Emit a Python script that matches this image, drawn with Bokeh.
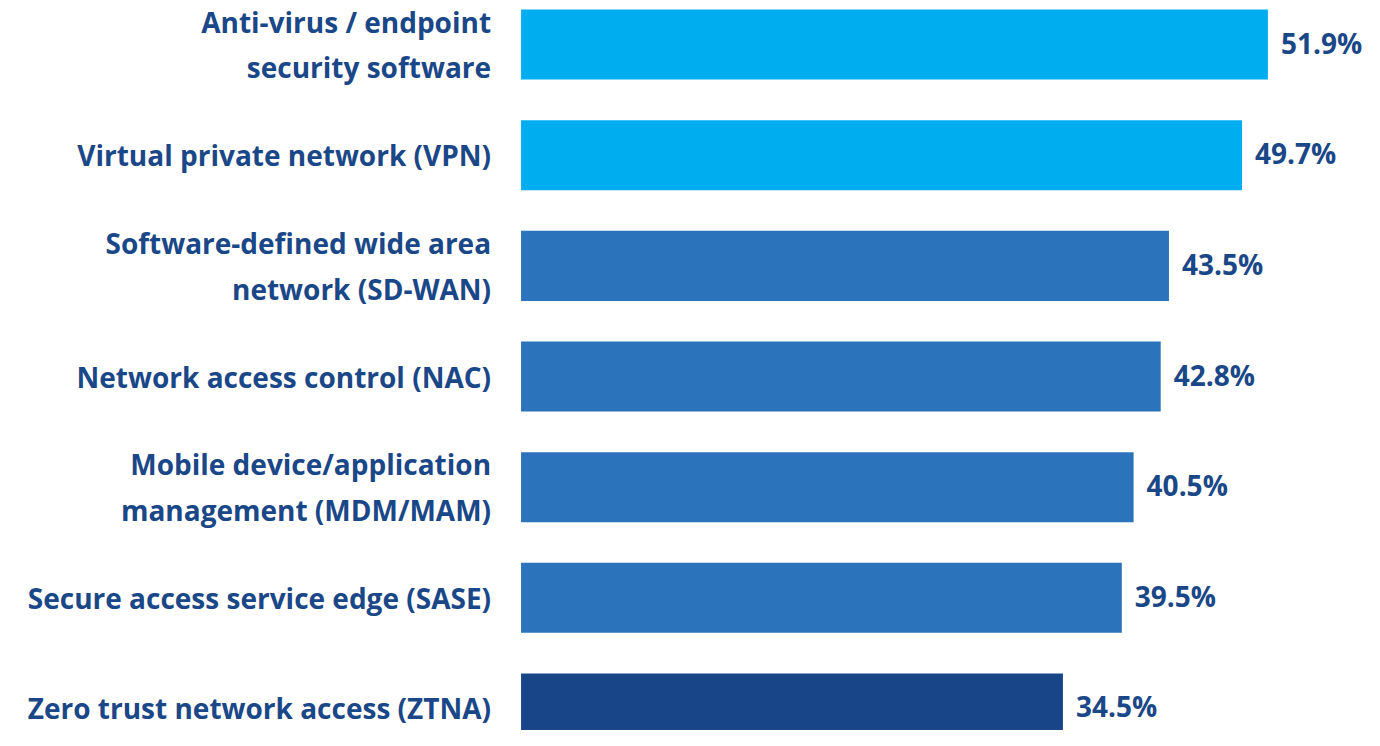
from bokeh.plotting import figure
from bokeh.models import Range1d, ColumnDataSource
from bokeh.core.properties import value
from bokeh.embed import file_html
from bokeh.resources import INLINE

categories = [
    "Anti-virus / endpoint\nsecurity software",
    "Virtual private network (VPN)",
    "Software-defined wide area\nnetwork (SD-WAN)",
    "Network access control (NAC)",
    "Mobile device/application\nmanagement (MDM/MAM)",
    "Secure access service edge (SASE)",
    "Zero trust network access (ZTNA)",
]
values = [51.9, 49.7, 43.5, 42.8, 40.5, 39.5, 34.5]
value_labels = ["51.9%", "49.7%", "43.5%", "42.8%", "40.5%", "39.5%", "34.5%"]
colors = ["#00AEEF", "#00AEEF", "#2B73BA", "#2B73BA", "#2B73BA", "#2B73BA", "#174587"]

BAR_BASE = -11.5
TEXT_COLOR = "#1A4787"
FONT = value("Open Sans")

n = len(categories)
ypos = list(range(n))
src = ColumnDataSource(dict(
    y=ypos, right=values, left=[BAR_BASE] * n, color=colors,
    cat=categories, lab=value_labels,
))

p = figure(width=1364, height=730, output_backend="svg", toolbar_location=None,
           x_range=Range1d(-55.69, 60.10), y_range=Range1d(6.199, -0.398),
           min_border=0, outline_line_color=None)
p.xaxis.visible = False
p.yaxis.visible = False
p.grid.visible = False
p.background_fill_color = "white"

p.hbar(y="y", left="left", right="right", height=0.633, color="color",
       line_color=None, source=src)

p.text(x=BAR_BASE, y="y", text="cat", source=src, x_offset=-30,
       text_align="right", text_baseline="middle", text_font=FONT,
       text_font_style="bold", text_font_size="28px", text_color=TEXT_COLOR,
       text_line_height=1.2)

p.text(x="right", y="y", text="lab", source=src, x_offset=13, y_offset=-2,
       text_align="left", text_baseline="middle", text_font=FONT,
       text_font_style="bold", text_font_size="28px", text_color=TEXT_COLOR)

open("out.html", "w").write(file_html(p, INLINE))
